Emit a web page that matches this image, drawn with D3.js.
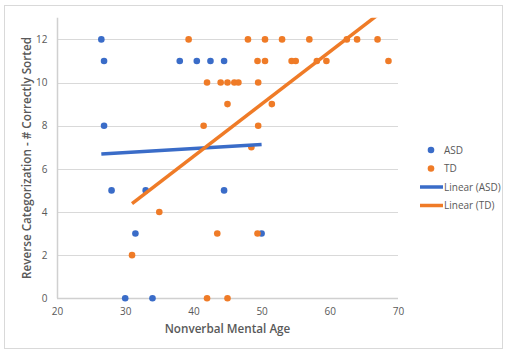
<!DOCTYPE html>
<html lang="en">
<head>
    <meta charset="UTF-8">
    <title>Reverse Categorization</title>
    <script src="https://d3js.org/d3.v7.min.js"></script>
    <style>
        body {
            margin: 0;
            background: #fff;
        }
        svg text {
            font-family: "Open Sans", "Noto Sans", sans-serif;
        }
    </style>
</head>
<body>
<svg id="chart"></svg>
<script>

    // ASD group: nonverbal mental age / # correctly sorted
    const asdAge = [26.5, 26.9, 26.9, 38, 40.5, 42.5, 44.5, 28, 33, 44.5, 31.5, 50, 30, 34];
    const asdScore = [12, 11, 8, 11, 11, 11, 11, 5, 5, 5, 3, 3, 0, 0];

    // TD group
    const tdAge = [39.3, 48, 50.5, 53, 57, 62.5, 64, 67,
        49.4, 50.5, 54.4, 55, 58.1, 59.5, 68.6,
        42, 44, 45, 46, 46.6, 49.5,
        45, 51.5,
        41.5, 49.5,
        48.5,
        35,
        43.5, 49.4,
        31,
        42, 45];
    const tdScore = [12, 12, 12, 12, 12, 12, 12, 12,
        11, 11, 11, 11, 11, 11, 11,
        10, 10, 10, 10, 10, 10,
        9, 9,
        8, 8,
        7,
        4,
        3, 3,
        2,
        0, 0];

    const xTicks = [20, 30, 40, 50, 60, 70];
    const yTicks = [0, 2, 4, 6, 8, 10, 12];
    const seriesNames = ["ASD", "TD", "Linear (ASD)", "Linear (TD)"];

    const blue = "#3a6cc8";
    const orange = "#ef7b27";
    const textGray = "#595959";

    const width = 510, height = 355;
    const svg = d3.select("#chart").attr("width", width).attr("height", height);

    // chart frame
    svg.append("rect")
        .attr("x", 4.5).attr("y", 5.5)
        .attr("width", 498).attr("height", 343)
        .attr("fill", "#fff")
        .attr("stroke", "#d9d9d9");

    const x = d3.scaleLinear().domain([20, 70]).range([57, 398]);
    const y = d3.scaleLinear().domain([0, 13]).range([298.3, 17.8]);

    // gridlines
    svg.append("g")
        .selectAll("line")
        .data(yTicks.filter(d => d > 0))
        .join("line")
        .attr("x1", x(20)).attr("x2", x(70))
        .attr("y1", d => Math.round(y(d)) + 0.5).attr("y2", d => Math.round(y(d)) + 0.5)
        .attr("stroke", "#d9d9d9");

    // axes
    const xAxis = svg.append("g")
        .attr("transform", `translate(0,${Math.round(y(0)) + 0.5})`)
        .call(d3.axisBottom(x).tickValues(xTicks).tickSize(0).tickPadding(9));
    const yAxis = svg.append("g")
        .attr("transform", `translate(${Math.round(x(20)) + 0.5},0)`)
        .call(d3.axisLeft(y).tickValues(yTicks).tickSize(0).tickPadding(10));

    [xAxis, yAxis].forEach(a => {
        a.select(".domain").attr("stroke", "#d0d0d0").attr("stroke-width", 1.5);
        a.selectAll("text").attr("fill", textGray).attr("font-size", "10px");
    });
    xAxis.select(".domain").attr("d", `M${x(20)},0H${x(70)}`);
    yAxis.select(".domain").attr("d", `M0,${y(0)}V${y(13)}`);

    // least-squares trendline over the data's x range
    function trend(xs, ys) {
        const mx = d3.mean(xs), my = d3.mean(ys);
        let sxy = 0, sxx = 0;
        xs.forEach((v, i) => {
            sxy += (v - mx) * (ys[i] - my);
            sxx += (v - mx) * (v - mx);
        });
        const b = sxy / sxx, a = my - b * mx;
        const x0 = d3.min(xs), x1 = d3.max(xs);
        return [[x0, a + b * x0], [x1, a + b * x1]];
    }

    svg.append("clipPath").attr("id", "plotClip")
        .append("rect")
        .attr("x", x(20)).attr("y", y(13))
        .attr("width", x(70) - x(20)).attr("height", y(0) - y(13));

    const pts = (xs, ys) => xs.map((v, i) => ({age: v, score: ys[i]}));

    const dots = svg.append("g");
    dots.selectAll(".asd")
        .data(pts(asdAge, asdScore))
        .join("circle")
        .attr("class", "asd")
        .attr("cx", d => x(d.age)).attr("cy", d => y(d.score))
        .attr("r", 3.3)
        .attr("fill", blue);

    dots.selectAll(".td")
        .data(pts(tdAge, tdScore))
        .join("circle")
        .attr("class", "td")
        .attr("cx", d => x(d.age)).attr("cy", d => y(d.score))
        .attr("r", 3.3)
        .attr("fill", orange);

    const line = d3.line().x(d => x(d[0])).y(d => y(d[1]));
    const trends = svg.append("g").attr("clip-path", "url(#plotClip)");
    trends.append("path")
        .attr("d", line(trend(asdAge, asdScore)))
        .attr("stroke", blue).attr("stroke-width", 3.5).attr("fill", "none");
    trends.append("path")
        .attr("d", line(trend(tdAge, tdScore)))
        .attr("stroke", orange).attr("stroke-width", 3.5).attr("fill", "none");

    // axis titles
    svg.append("text")
        .attr("x", (x(20) + x(70)) / 2).attr("y", 333)
        .attr("text-anchor", "middle")
        .attr("font-size", "11.7px").attr("font-weight", 600)
        .attr("fill", textGray)
        .text("Nonverbal Mental Age");

    svg.append("text")
        .attr("transform", `translate(31,${(y(0) + y(13)) / 2}) rotate(-90)`)
        .attr("text-anchor", "middle")
        .attr("font-size", "11.7px").attr("font-weight", 600)
        .attr("fill", textGray)
        .text("Reverse Categorization - # Correctly Sorted");

    // legend
    const legend = svg.append("g").attr("transform", "translate(420,150)");
    const rows = legend.selectAll("g")
        .data(seriesNames)
        .join("g")
        .attr("transform", (d, i) => `translate(0,${i * 18.5})`);
    rows.filter((d, i) => i < 2).append("circle")
        .attr("cx", 11).attr("cy", 0).attr("r", 3.3)
        .attr("fill", (d, i) => i === 0 ? blue : orange);
    rows.filter((d, i) => i >= 2).append("line")
        .attr("x1", 0).attr("x2", 23).attr("y1", 0).attr("y2", 0)
        .attr("stroke", (d, i) => i === 0 ? blue : orange)
        .attr("stroke-width", 3.5);
    rows.append("text")
        .attr("x", 24)
        .attr("y", 0).attr("dy", "0.35em")
        .attr("font-size", "10px")
        .attr("fill", textGray)
        .text(d => d);

</script>
</body>
</html>
